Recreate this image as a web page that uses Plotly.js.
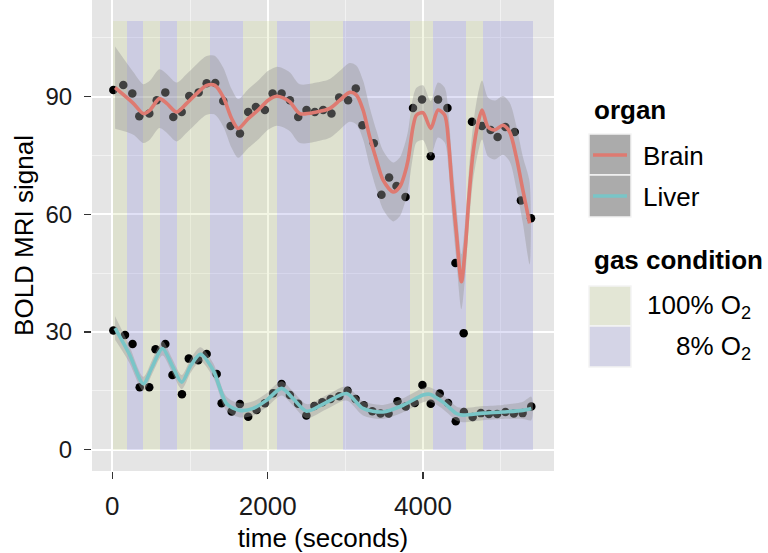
<!DOCTYPE html>
<html><head><meta charset="utf-8">
<script src="https://cdn.plot.ly/plotly-3.0.1.min.js"></script>
<style>html,body{margin:0;padding:0;background:#fff}</style>
</head><body><div id="chart" style="width:768px;height:553px"></div>
<script>
// ---- gas condition blocks (seconds) ----
var o2FullStart = [10, 399, 828, 1685, 2543, 3828, 4558];
var o2FullEnd   = [185, 613, 1257, 2114, 2971, 4128, 4771];
var o2LowStart  = [185, 613, 1257, 2114, 2971, 4128, 4771];
var o2LowEnd    = [399, 828, 1685, 2543, 3828, 4558, 5415];
var bandTop = 109.2;

// ---- observed BOLD signal ----
var brainTime = [13,141,257,347,476,571,682,785,893,990,1111,1214,1325,1428,1523,1643,1749,1848,1964,2063,2179,2286,2393,2500,2607,2714,2821,2920,3035,3134,3220,3366,3465,3563,3658,3774,3871,3987,4099,4193,4314,4417,4523,4630,4759,4870,4960,5060,5180,5260,5390];
var brainSignal = [91.7,93.0,90.8,85.0,85.7,89.1,91.1,84.8,86.1,90.2,91.1,93.4,93.5,88.9,82.5,80.6,86.1,87.4,86.6,90.8,90.8,89.1,84.8,86.6,86.1,86.6,85.7,89.8,89.1,92.1,82.7,78.1,65.0,69.4,67.2,64.4,87.1,89.3,74.8,89.3,87.1,47.6,29.7,83.6,82.5,81.5,79.7,82.3,81.0,63.5,59.0];
var liverTime = [13,163,260,352,475,556,682,774,896,984,1106,1214,1343,1407,1536,1642,1749,1857,1964,2071,2179,2286,2392,2498,2601,2704,2810,2922,3029,3132,3237,3347,3453,3556,3671,3777,3893,3992,4099,4215,4322,4421,4526,4639,4745,4848,4954,5061,5169,5282,5394];
var liverSignal = [30.4,29.2,26.9,15.9,15.9,25.6,26.9,19.0,14.1,23.2,22.8,24.4,19.3,11.8,9.7,11.6,8.4,10.1,11.8,14.4,16.7,13.9,11.7,8.7,11.1,12.1,12.9,13.6,15.0,12.9,11.3,9.8,9.2,9.2,12.3,11.0,11.9,16.5,11.7,14.3,11.9,7.2,9.6,8.3,9.3,9.1,9.1,9.6,9.2,9.3,11.0];

// ---- smoothed fits and their confidence half-widths ----
var brainFitTime = [35,270,399,485,605,700,828,957,1086,1214,1321,1428,1536,1621,1749,1878,2006,2114,2199,2286,2414,2629,2800,2929,3057,3143,3228,3314,3401,3486,3614,3700,3765,3807,3871,3915,4000,4099,4193,4279,4330,4373,4430,4494,4545,4588,4643,4707,4759,4836,4922,5029,5115,5201,5286,5372];
var brainFit = [92.3,88.3,85.7,86.6,89.5,88.3,86.1,88.3,90.8,92.9,92.9,89.9,84.4,81.9,84.4,86.6,89.1,90.1,89.7,88.7,85.7,86.1,87.0,89.1,91.1,90.4,86.6,79.7,73.8,68.7,65.7,67.0,70.4,73.8,82.3,85.3,85.9,81.9,86.6,85.3,78.1,67.0,55.1,42.8,51.7,63.6,75.5,83.2,86.6,82.3,81.5,82.7,81.0,74.6,66.1,57.7];
var brainFitBand = [10.5,8,7.5,7.5,7.5,7.5,7.5,7.5,7.5,7.5,7.5,7.5,7.5,7.5,7.5,7.5,7.5,7.5,7.5,7.5,7.5,7.5,7.5,7.5,7.5,7.5,7.5,7.5,7.5,7.5,7.5,7.5,7.5,7.5,7.5,7,7,7,7,7,7,7,7,7,7,7,7,7.5,7.5,7.5,7.5,7.5,7.5,8,8.5,10.5];
var liverFitTime = [35,215,399,511,646,768,893,1012,1134,1299,1471,1642,1814,1986,2179,2328,2500,2749,3015,3228,3486,3743,4000,4086,4257,4430,4514,4772,5029,5286,5394];
var liverFit = [31.0,24.5,16.8,21.0,25.8,21.5,17.2,21.5,24.3,20.2,11.7,10.0,10.5,12.6,15.6,13.0,9.8,12.0,14.3,10.5,9.6,11.3,13.9,14.1,12.1,9.2,8.8,9.3,9.6,10.0,10.5];
var liverFitBand = [3,2.2,1.8,1.8,1.8,1.8,1.8,1.8,1.8,1.8,1.8,1.8,1.8,1.8,1.8,1.8,1.8,1.8,1.8,1.8,1.8,1.8,1.8,1.8,1.8,1.8,1.8,1.8,1.8,2.2,3];

// ---- axis ticks and legend labels ----
var xTicks = [0, 2000, 4000];
var xMinor = [1000, 3000, 5000];
var yTicks = [0, 30, 60, 90];
var yMinor = [15, 45, 75, 105];
var organLabels = ['Brain', 'Liver'];
var gasLabels = ['100% O<sub>2</sub>', '8% O<sub>2</sub>'];

var FONT = 'Liberation Sans, Arial, Helvetica, sans-serif';
var colBrain = '#DE7A71', colLiver = '#79C5C7';
var fillFull = 'rgba(200,216,130,0.22)', fillLow = 'rgba(130,130,218,0.25)';
var ribbonFill = 'rgba(153,153,153,0.42)';

function blocks(starts, ends, color) {
  return {
    type: 'bar', x: starts.map(function(s, i){ return (s + ends[i]) / 2; }),
    width: starts.map(function(s, i){ return ends[i] - s; }),
    y: starts.map(function(){ return bandTop; }), base: 0,
    marker: {color: color, line: {width: 0}}, hoverinfo: 'skip', showlegend: false
  };
}
function ribbon(t, fit, half) {
  var up = fit.map(function(v, i){ return v + half[i]; });
  var lo = fit.map(function(v, i){ return v - half[i]; });
  return {
    type: 'scatter', mode: 'lines', x: t.concat(t.slice().reverse()),
    y: up.concat(lo.slice().reverse()), fill: 'toself', fillcolor: ribbonFill,
    line: {width: 0, shape: 'spline', smoothing: 0.8}, hoverinfo: 'skip', showlegend: false
  };
}
function pts(t, v) {
  return {type: 'scatter', mode: 'markers', x: t, y: v,
    marker: {color: '#000', size: 8.5}, showlegend: false};
}
function fitLine(t, v, c) {
  return {type: 'scatter', mode: 'lines', x: t, y: v,
    line: {color: c, width: 3.6, shape: 'spline', smoothing: 0.8}, showlegend: false};
}

var data = [
  blocks(o2FullStart, o2FullEnd, fillFull),
  blocks(o2LowStart, o2LowEnd, fillLow),
  pts(brainTime, brainSignal),
  pts(liverTime, liverSignal),
  ribbon(brainFitTime, brainFit, brainFitBand),
  fitLine(brainFitTime, brainFit, colBrain),
  ribbon(liverFitTime, liverFit, liverFitBand),
  fitLine(liverFitTime, liverFit, colLiver)
];

// plot area in pixels: left 92, right 554, top 0, bottom 471
var L = 92, R = 554, T = 0, B = 471;
function px(xp){ return (xp - L) / (R - L); }
function py(yp){ return (B - yp) / (B - T); }

var shapes = [], ann = [];
function key(x0, y0, x1, y1, fill) {
  shapes.push({type: 'rect', xref: 'paper', yref: 'paper', x0: px(x0), x1: px(x1), y0: py(y1), y1: py(y0),
    fillcolor: fill, line: {color: '#f4f4f4', width: 1.5}, layer: 'above'});
}
function seg(x0, x1, y, c) {
  shapes.push({type: 'line', xref: 'paper', yref: 'paper', x0: px(x0), x1: px(x1), y0: py(y), y1: py(y),
    line: {color: c, width: 3.6}, layer: 'above'});
}
function txt(x, y, s, anchor, bold) {
  ann.push({xref: 'paper', yref: 'paper', x: px(x), y: py(y), text: bold ? '<b>' + s + '</b>' : s,
    showarrow: false, xanchor: anchor, yanchor: 'middle', borderpad: 0,
    font: {family: FONT, size: 26, color: '#000'}});
}
// organ legend
txt(593, 110, 'organ', 'left', true);
key(589, 134, 631, 175, '#ababab'); seg(593, 627, 155, colBrain);
key(589, 175, 631, 217, '#ababab'); seg(593, 627, 196, colLiver);
txt(642, 156, organLabels[0], 'left', false);
txt(642, 197, organLabels[1], 'left', false);
// gas legend
txt(593, 260, 'gas condition', 'left', true);
key(589, 286, 631, 326, '#e3e6d5');
key(589, 326, 631, 367, '#d4d4e6');
txt(752, 306, gasLabels[0], 'right', false);
txt(752, 347, gasLabels[1], 'right', false);

var layout = {
  width: 768, height: 553, autosize: false,
  margin: {l: L, r: 768 - R, t: T, b: 553 - B, pad: 0},
  paper_bgcolor: '#ffffff', plot_bgcolor: '#e5e5e5',
  font: {family: FONT, size: 26, color: '#000'},
  barmode: 'overlay', bargap: 0,
  xaxis: {
    range: [-262, 5686], tickvals: xTicks, ticktext: xTicks.map(String),
    ticks: 'outside', ticklen: 7, tickwidth: 1.5, tickcolor: '#333', ticklabelstandoff: 5,
    tickfont: {family: FONT, size: 26, color: '#1a1a1a'},
    showgrid: true, gridcolor: '#ffffff', gridwidth: 2, zeroline: false, showline: false,
    minor: {tickvals: xMinor, showgrid: true, gridcolor: '#f2f2f2', gridwidth: 1, ticks: ''},
    title: {text: 'time (seconds)', font: {family: FONT, size: 26, color: '#000'}, standoff: 9},
    automargin: false, fixedrange: true
  },
  yaxis: {
    range: [-5.46, 114.66], tickvals: yTicks, ticktext: yTicks.map(String),
    ticks: 'outside', ticklen: 7, tickwidth: 1.5, tickcolor: '#333', ticklabelstandoff: 7,
    tickfont: {family: FONT, size: 24, color: '#1a1a1a'},
    showgrid: true, gridcolor: '#ffffff', gridwidth: 2, zeroline: false, showline: false,
    minor: {tickvals: yMinor, showgrid: true, gridcolor: '#f2f2f2', gridwidth: 1, ticks: ''},
    title: {text: 'BOLD MRI signal', font: {family: FONT, size: 26, color: '#000'}, standoff: 4},
    automargin: false, fixedrange: true
  },
  shapes: shapes, annotations: ann, showlegend: false
};

Plotly.newPlot('chart', data, layout, {displayModeBar: false, staticPlot: true});
</script></body></html>
